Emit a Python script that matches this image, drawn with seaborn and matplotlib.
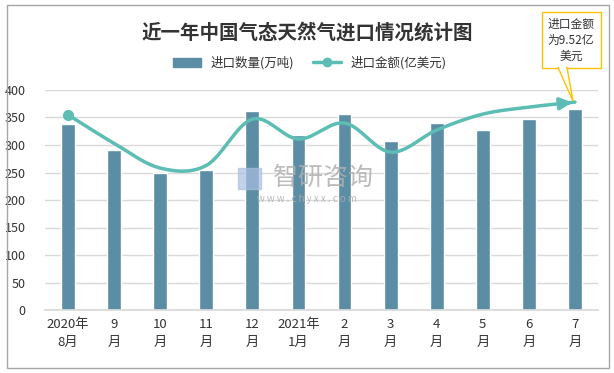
import numpy as np
import seaborn as sns
import matplotlib.pyplot as plt
from matplotlib.patches import Rectangle, Polygon, Patch
from matplotlib.lines import Line2D

months = ["2020年\n8月", "9\n月", "10\n月", "11\n月", "12\n月", "2021年\n1月",
          "2\n月", "3\n月", "4\n月", "5\n月", "6\n月", "7\n月"]
volume = [338, 291, 249, 255, 362, 318, 356, 307, 340, 327, 347, 365]  # 万吨
amount = [8.94, 7.63, 6.50, 6.62, 8.74, 7.83, 8.56, 7.23, 8.24, 8.97, 9.29, 9.52]  # 亿美元

sns.set_theme(style="white")
plt.rcParams['font.family'] = ['Noto Sans CJK SC', 'DejaVu Sans']

bar_color = "#5B8DA4"
line_color = "#5BBDB3"

fig = plt.figure(figsize=(6.14, 3.73), dpi=100)
fig.patches.append(Rectangle((7 / 614, 5 / 373), 602 / 614, 363 / 373, transform=fig.transFigure,
                             fill=False, edgecolor="#A6A6A6", linewidth=1))
ax = fig.add_axes([45 / 614, 63 / 373, 553 / 614, 220 / 373])

sns.barplot(x=list(range(len(months))), y=volume, color=bar_color, width=0.3,
            saturation=1, ax=ax, zorder=2)
ax.set_ylim(0, 400)
ax.set_xlim(-0.5, len(months) - 0.5)
ax.set_yticks(range(0, 401, 50))
ax.yaxis.grid(True, color="#D9D9D9", linewidth=1)
ax.set_axisbelow(True)
for s in ["top", "right", "left"]:
    ax.spines[s].set_visible(False)
ax.spines["bottom"].set_color("#D9D9D9")
ax.set_xticks(range(len(months)))
ax.set_xticklabels(months, fontsize=9.5, color="#333333", linespacing=1.5)
ax.tick_params(axis="y", labelsize=9, colors="#333333", length=0, pad=14)
ax.tick_params(axis="x", length=0, pad=6)
ax.set_xlabel("")
ax.set_ylabel("")

# secondary (hidden) axis for amount, smoothed like Excel
ax2 = ax.twinx()
ax2.set_ylim(0, 400 * 9.52 / 378)
ax2.axis("off")
x = np.arange(len(amount), dtype=float)
y = np.array(amount)
px = np.concatenate([[x[0]], x, [x[-1]]])
py = np.concatenate([[y[0]], y, [y[-1]]])
xs, ys = [], []
for i in range(1, len(px) - 2):
    t = np.linspace(0, 1, 20)
    for arr, out in ((px, xs), (py, ys)):
        p0, p1, p2, p3 = arr[i - 1], arr[i], arr[i + 1], arr[i + 2]
        out.extend(0.5 * (2 * p1 + (-p0 + p2) * t + (2 * p0 - 5 * p1 + 4 * p2 - p3) * t ** 2
                          + (-p0 + 3 * p1 - 3 * p2 + p3) * t ** 3))
ax2.plot(xs, ys, color=line_color, linewidth=2.5, solid_capstyle="round", zorder=3)
ax2.plot(x[0], y[0], "o", color=line_color, markersize=7, zorder=4)
ax2.annotate("", xy=(x[-1], y[-1]), xytext=(xs[-6], ys[-6]),
             arrowprops=dict(arrowstyle="-|>,head_length=0.6,head_width=0.3",
                             color=line_color, lw=2.5))

# title and legend
fig.text(0.5, 340 / 373, "近一年中国气态天然气进口情况统计图", ha="center", va="center",
         fontsize=14, fontweight="bold", color="#333333")
handles = [Patch(color=bar_color, label="进口数量(万吨)"),
           Line2D([0], [0], color=line_color, lw=2.5, marker="o", markersize=6,
                  label="进口金额(亿美元)")]
fig.legend(handles=handles, loc="center", bbox_to_anchor=(310 / 614, 310 / 373), ncol=2,
           frameon=False, fontsize=9, handlelength=2.2, columnspacing=1.5,
           labelcolor="#333333")

# watermark
fig.text(323 / 614, 195 / 373, "智研咨询", fontsize=18, color="#B0B0B0", ha="center",
         va="center", alpha=0.85, zorder=5)
fig.text(307 / 614, 174 / 373, "w w w . c h y x x . c o m", fontsize=7, color="#B0B0B0",
         ha="center", va="center", alpha=0.85, zorder=5)
fig.patches.append(Rectangle((238 / 614, 184 / 373), 23 / 614, 21 / 373, transform=fig.transFigure,
                             color="#A9BFE0", alpha=0.7, zorder=5))

# callout
box = Rectangle((542 / 614, 305 / 373), 59 / 614, 56 / 373, transform=fig.transFigure,
                facecolor="white", edgecolor="#FFC000", linewidth=1, zorder=6)
fig.patches.append(box)
fig.patches.append(Polygon([(558 / 614, 305.5 / 373), (573 / 614, 272 / 373), (567 / 614, 305.5 / 373)],
                           closed=True, transform=fig.transFigure, facecolor="white",
                           edgecolor="#FFC000", linewidth=1, zorder=6))
fig.patches.append(Rectangle((559 / 614, 304 / 373), 7 / 614, 3 / 373, transform=fig.transFigure,
                             facecolor="white", edgecolor="none", zorder=7))
fig.text(571 / 614, 333 / 373, "进口金额\n为9.52亿\n美元", ha="center", va="center",
         fontsize=8.5, color="#333333", linespacing=1.3, zorder=8)

fig.savefig("out.png", dpi=100)
